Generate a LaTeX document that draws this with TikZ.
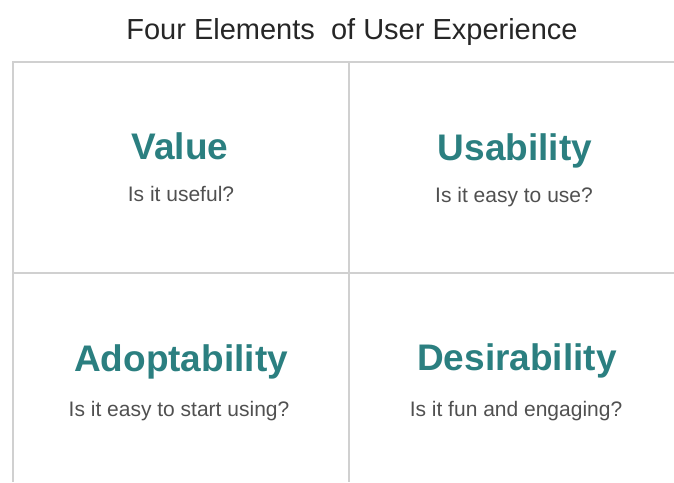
\documentclass[tikz,border=0pt]{standalone}
\usepackage{fontspec}
\setmainfont{Liberation Sans}
\definecolor{teal1}{HTML}{2B7F80}
\definecolor{subgray}{HTML}{505050}
\definecolor{gridgray}{HTML}{D0D0D0}
\begin{document}
\begin{tikzpicture}[x=1pt,y=-1pt,
  heading/.style={anchor=base,inner sep=0pt,text=teal1,font=\fontsize{37}{42}\selectfont\bfseries},
  question/.style={anchor=base,inner sep=0pt,text=subgray,font=\fontsize{21}{25}\selectfont},
  gridline/.style={draw=gridgray,line width=1.6pt}]
  \useasboundingbox (0,0) rectangle (674,482);
  % title
  \node[anchor=base,inner sep=0pt,text=black!85,font=\fontsize{29}{34}\selectfont] (title) at (352,39) {Four Elements\ \ of User Experience};
  % grid
  \coordinate (tl) at (13,62);
  \coordinate (tr) at (674,62);
  \coordinate (bl) at (13,482);
  \coordinate (tm) at (349,62);
  \coordinate (bm) at (349,482);
  \coordinate (ml) at (13,273);
  \coordinate (mr) at (674,273);
  \draw[gridline] (tr) -- (tl) -- (bl);
  \draw[gridline] (tm) -- (bm);
  \draw[gridline] (ml) -- (mr);
  % quadrants
  \node[heading] (value) at (180,159) {Value};
  \node[question] (valueq) at (181,201) {Is it useful?};
  \node[heading] (usab) at (515,160) {Usability};
  \node[question] (usabq) at (514,202) {Is it easy to use?};
  \node[heading] (adopt) at (181,371) {Adoptability};
  \node[question] (adoptq) at (179,416) {Is it easy to start using?};
  \node[heading] (desir) at (517,370) {Desirability};
  \node[question] (desirq) at (516,416) {Is it fun and engaging?};
\end{tikzpicture}
\end{document}
